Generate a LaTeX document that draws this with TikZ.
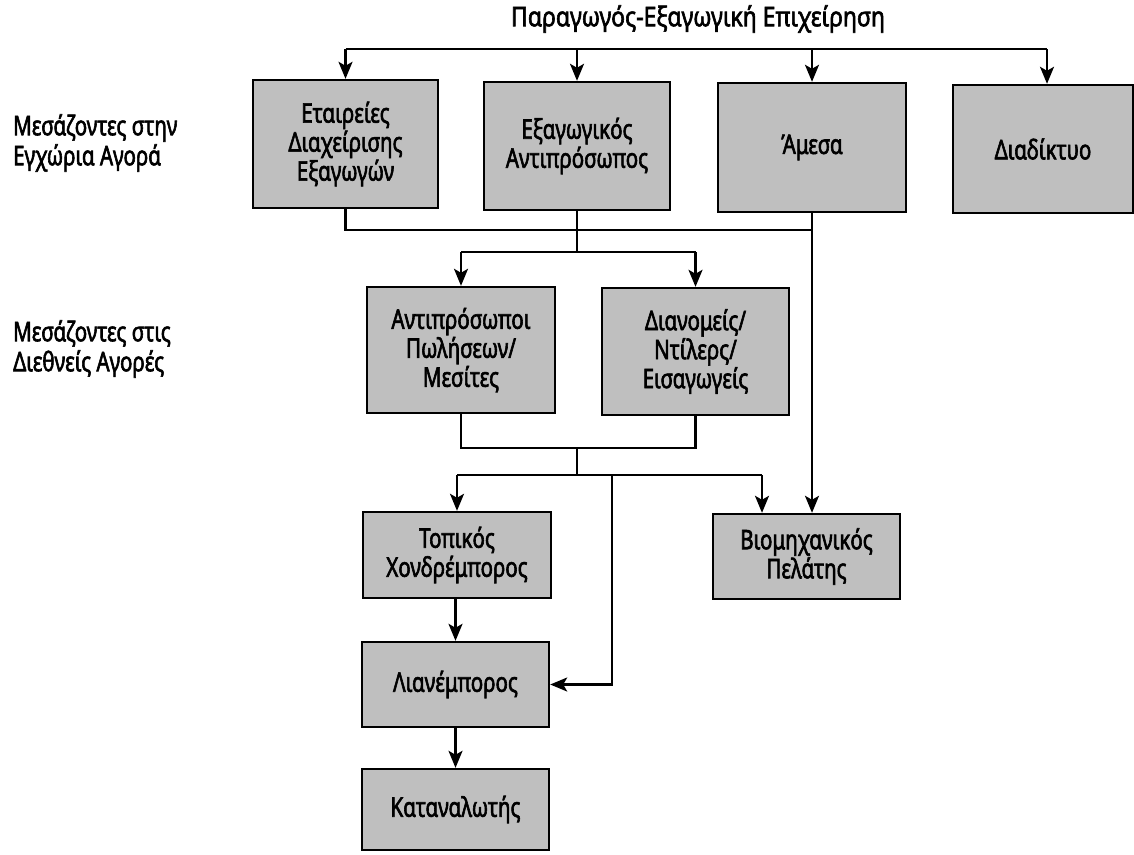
\documentclass[tikz,border=0pt]{standalone}
\usepackage{fontspec}
\setmainfont{Noto Sans}[FakeStretch=0.76,FakeBold=2.2]
\newfontfamily\titlefont{Noto Sans}[FakeStretch=0.85,FakeBold=2.2]
\usetikzlibrary{arrows.meta}
\begin{document}
\begin{tikzpicture}[x=1pt,y=-1pt,
  box/.style={draw=black,line width=2.4pt,fill=black!25,minimum width=#1,inner sep=2pt,
    align=center,font=\fontsize{27}{29}\selectfont},
  lbl/.style={align=left,anchor=west,inner sep=0pt,font=\fontsize{27}{30}\selectfont},
  conn/.style={line width=2.2pt},
  arr/.style={line width=2.2pt,-{Stealth[length=17pt,width=14pt,inset=4pt]}}]
\useasboundingbox (0,0) rectangle (1134,854);

\node[font=\titlefont\fontsize{27}{30}\selectfont,inner sep=0pt] (title) at (698,19) {Παραγωγός-Εξαγωγική Επιχείρηση};

\node[lbl] (l1) at (13,143) {Μεσάζοντες στην\\Εγχώρια Αγορά};
\node[lbl] (l2) at (13,349) {Μεσάζοντες στις\\Διεθνείς Αγορές};

\node[box=185pt,minimum height=128pt] (b1) at (345.5,144) {Εταιρείες\\Διαχείρισης\\Εξαγωγών};
\node[box=186pt,minimum height=128pt] (b2) at (577,146) {Εξαγωγικός\\Αντιπρόσωπος};
\node[box=188pt,minimum height=129pt] (b3) at (812,147.5) {Άμεσα};
\node[box=180pt,minimum height=128pt] (b4) at (1043,149) {Διαδίκτυο};
\node[box=188pt,minimum height=126pt] (b5) at (461,350) {Αντιπρόσωποι\\Πωλήσεων/\\Μεσίτες};
\node[box=187pt,minimum height=127pt] (b6) at (695.5,351.5) {Διανομείς/\\Ντίλερς/\\Εισαγωγείς};
\node[box=188pt,minimum height=86pt] (b7) at (457,555) {Τοπικός\\Χονδρέμπορος};
\node[box=187pt,minimum height=85pt] (b8) at (455.5,684.5) {Λιανέμπορος};
\node[box=187pt,minimum height=81pt] (b9) at (455.5,809.5) {Καταναλωτής};
\node[box=187pt,minimum height=85pt] (b10) at (806.5,556.5) {Βιομηχανικός\\Πελάτης};

% top distribution bar
\coordinate (tl) at (345.5,49);
\coordinate (tr) at (1047,49);
\draw[conn] (tl) -- (tr);
\draw[arr] (tl) -- (b1.north);
\draw[arr] (b2.north |- tl) -- (b2.north);
\draw[arr] (b3.north |- tl) -- (b3.north);
\draw[arr] (tr) -- (tr |- b4.north);

% domestic intermediaries down
\coordinate (j1) at (812,230);
\draw[conn] (b1.south) |- (j1);
\draw[arr] (b3.south) -- (b3.south |- b10.north);

\coordinate (j2) at (577,252);
\draw[conn] (b2.south) -- (j2);
\draw[conn] (b5.north |- j2) -- (b6.north |- j2);
\draw[arr] (b5.north |- j2) -- (b5.north);
\draw[arr] (b6.north |- j2) -- (b6.north);

% international intermediaries down
\coordinate (j3) at (577,448);
\coordinate (j4) at (577,475);
\draw[conn] (b5.south) |- (j3) -| (b6.south);
\draw[conn] (j3) -- (j4);
\coordinate (r1) at (762,475);
\coordinate (m1) at (612,475);
\draw[conn] (b7.north |- j4) -- (r1);
\draw[arr] (b7.north |- j4) -- (b7.north);
\draw[arr] (r1) -- (r1 |- b10.north);
\draw[arr] (m1) |- (b8.east);

\draw[arr] (b7.south -| b8.north) -- (b8.north);
\draw[arr] (b8.south) -- (b9.north);
\end{tikzpicture}
\end{document}
